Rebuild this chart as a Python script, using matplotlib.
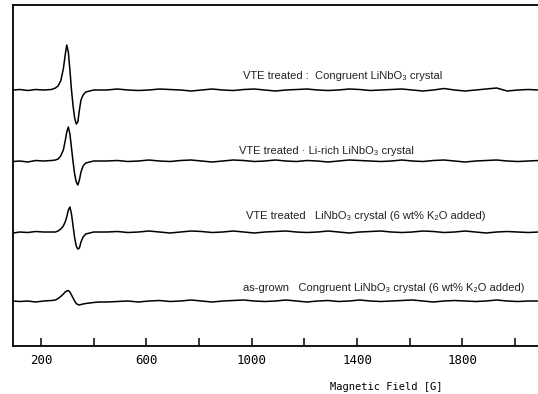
import matplotlib
matplotlib.use("Agg")
import matplotlib.pyplot as plt

# magnetic field grid [G]: sparse baseline, dense around the signal
field = [94, 120, 150, 180, 210, 240,
         255, 265, 275, 285, 292, 298, 304, 310, 316, 322,
         328, 334, 340, 346, 352, 360, 370, 385, 400, 420,
         450, 490, 530, 570, 610, 650, 690, 730, 770, 810,
         850, 890, 930, 970, 1010, 1050, 1090, 1130, 1170, 1210,
         1250, 1290, 1330, 1370, 1410, 1450, 1490, 1530, 1570, 1610,
         1650, 1690, 1730, 1770, 1810, 1850, 1890, 1930, 1970, 2010,
         2050, 2090]

# signal (arb. units, traces already offset)
vte_congruent = [256, 256.5, 255.5, 256.5, 256, 256.5,
                 258, 260, 265, 277, 291, 301, 294, 276, 256, 240,
                 228, 222, 224, 236, 246, 251, 254, 255, 256, 256,
                 256, 257, 256, 255.5, 256, 257, 256.5, 256, 255, 256,
                 257, 256, 255.5, 256.5, 257, 256, 255, 256, 256.5, 257,
                 256, 255.5, 256, 257, 256.5, 255.5, 256, 256.5, 257, 256,
                 255, 256, 257.5, 256, 255, 256, 257, 258, 255, 256,
                 256.5, 256]
vte_lirich = [184.5, 185, 184, 185.5, 185, 185.5,
              186, 187, 190, 196, 205, 214, 219, 212, 198, 184,
              172, 164, 161, 166, 174, 180, 183, 184, 185, 185,
              185, 185.5, 184.5, 185, 186, 185, 184.5, 185.5, 186, 185,
              184, 185, 186, 185.5, 184.5, 185, 186, 185, 184.5, 185.5,
              185, 184, 185, 186, 185.5, 185, 184.5, 185, 186, 185,
              184.5, 185.5, 186, 185, 184, 185, 185.5, 186, 185, 184.5,
              185, 185.5]
vte_k2o = [113, 114, 113.5, 114.5, 114, 114,
           114, 115, 117, 120, 124, 129, 136, 139, 132, 120,
           108, 100, 97, 98, 104, 109, 112, 113, 114, 114,
           114, 114.5, 113.5, 114, 115, 114, 113, 114, 115, 114.5,
           113.5, 114, 115, 114, 113, 114, 114.5, 115, 114, 113.5,
           114, 115, 114, 113, 114, 114.5, 115, 114, 113.5, 114,
           115, 114.5, 113.5, 114, 115, 114, 113, 114, 114.5, 114,
           113.5, 114]
asgrown_k2o = [45, 44.5, 45, 44, 45, 45.5,
               46, 47.5, 49.5, 52, 54, 55, 55.5, 54, 51, 48,
               45, 42.5, 41.5, 41, 41.5, 42, 42.5, 43, 43.5, 44,
               44, 44.5, 45, 44, 45, 45.5, 44.5, 45, 46, 45,
               44, 45, 45.5, 46, 45, 44.5, 45, 46, 45, 44,
               45, 45.5, 44.5, 45, 46, 45, 44.5, 45, 45.5, 46,
               45, 44, 45, 45.5, 45, 44.5, 45, 46, 45, 44.5,
               45, 45]

traces = [vte_congruent, vte_lirich, vte_k2o, asgrown_k2o]
labels = ["VTE treated :  Congruent LiNbO\u2083 crystal",
          "VTE treated \u00b7 Li-rich LiNbO\u2083 crystal",
          "VTE treated   LiNbO\u2083 crystal (6 wt% K\u2082O added)",
          "as-grown   Congruent LiNbO\u2083 crystal (6 wt% K\u2082O added)"]
label_x = [967, 952, 978, 967]
label_y = [270, 195, 130, 58.5]

major_ticks = [200, 600, 1000, 1400, 1800]
minor_ticks = [400, 800, 1200, 1600, 2000]

fig = plt.figure(figsize=(5.38, 3.94), dpi=100)
ax = fig.add_axes([0.0242, 0.1218, 0.9758, 0.8655])

for y in traces:
    ax.plot(field, y, color="black", lw=1.1)

for txt, x, y in zip(labels, label_x, label_y):
    ax.text(x, y, txt, ha="left", va="center", fontsize=8, color="#222222",
            family=["Liberation Sans", "DejaVu Sans"])

ax.set_xlim(94, 2087)
ax.set_ylim(0, 341)
ax.set_yticks([])
ax.set_xticks(major_ticks)
ax.set_xticks(minor_ticks, minor=True)
ax.set_xticklabels([str(t) for t in major_ticks], family="DejaVu Sans Mono",
                   fontsize=9)
ax.tick_params(axis="x", which="both", direction="in", length=6, width=1.1,
               pad=6, top=False)
ax.spines["right"].set_visible(False)
for s in ["left", "bottom", "top"]:
    ax.spines[s].set_linewidth(1.3)

ax.set_xlabel("Magnetic Field [G]", family="DejaVu Sans Mono", fontsize=7.5)
ax.xaxis.set_label_coords(0.71, -0.106)

fig.savefig("out.png", dpi=100)
